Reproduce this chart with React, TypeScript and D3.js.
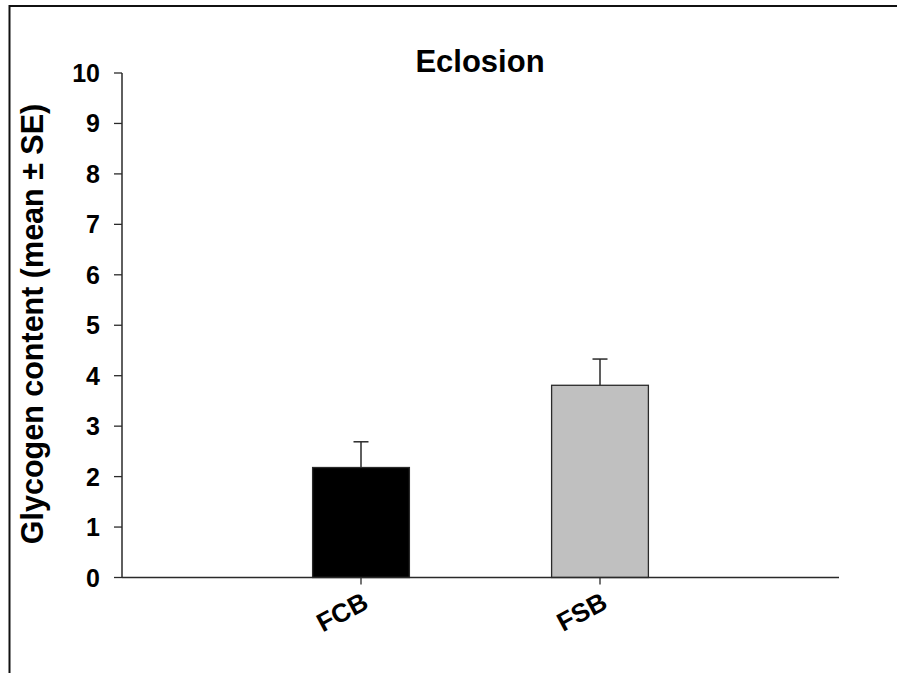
import React from "react";
import * as d3 from "d3";

const categories = ["FCB", "FSB"];
const means = [2.18, 3.81];
const errors = [0.51, 0.52];
const fills = ["#000000", "#c0c0c0"];
const yTicks = [0, 1, 2, 3, 4, 5, 6, 7, 8, 9, 10];
const title = "Eclosion";
const yTitle = "Glycogen content (mean ± SE)";

const W = 897;
const H = 673;
const plot = { left: 122, right: 839, top: 73, bottom: 577.5 };

export default function App() {
  const x = d3
    .scalePoint<string>()
    .domain(categories)
    .range([plot.left, plot.right])
    .padding(1);
  const y = d3.scaleLinear().domain([0, 10]).range([plot.bottom, plot.top]);
  const step = x.step();
  const barW = step * 0.405;
  const font = "Arial, 'Liberation Sans', sans-serif";
  const axisColor = "#2a2a2a";

  return (
    <svg
      width={W}
      height={H}
      style={{ position: "absolute", left: 0, top: 0, background: "#fff" }}
      fontFamily={font}
    >
      {/* frame */}
      <line x1={9.5} x2={W} y1={6} y2={6} stroke="#111" strokeWidth={2} />
      <line x1={9.5} x2={9.5} y1={5} y2={H} stroke="#111" strokeWidth={2} />

      <text x={480} y={72} textAnchor="middle" fontWeight="bold" fontSize={31}>
        {title}
      </text>

      {/* bars */}
      {categories.map((c, i) => {
        const cx = x(c)!;
        const top = y(means[i]);
        const et = y(means[i] + errors[i]);
        return (
          <g key={c}>
            <line x1={cx} x2={cx} y1={top} y2={et} stroke={axisColor} strokeWidth={1.5} />
            <line x1={cx - 7.5} x2={cx + 7.5} y1={et} y2={et} stroke={axisColor} strokeWidth={1.5} />
            <rect
              x={cx - barW / 2}
              y={top}
              width={barW}
              height={plot.bottom - top}
              fill={fills[i]}
              stroke={axisColor}
              strokeWidth={1.3}
            />
          </g>
        );
      })}

      {/* y axis */}
      <line x1={plot.left} x2={plot.left} y1={plot.top} y2={plot.bottom} stroke={axisColor} strokeWidth={1.5} />
      {yTicks.map((t) => (
        <g key={t}>
          <line x1={plot.left - 8} x2={plot.left} y1={y(t)} y2={y(t)} stroke={axisColor} strokeWidth={1.3} />
          <text
            x={100}
            y={y(t)}
            dy="0.36em"
            textAnchor="end"
            fontWeight="bold"
            fontSize={25}
          >
            {t}
          </text>
        </g>
      ))}

      {/* x axis */}
      <line x1={plot.left} x2={plot.right} y1={plot.bottom} y2={plot.bottom} stroke={axisColor} strokeWidth={1.5} />
      {categories.map((c) => (
        <g key={c}>
          <line x1={x(c)!} x2={x(c)!} y1={plot.bottom} y2={plot.bottom + 7} stroke={axisColor} strokeWidth={1.3} />
          <text
            transform={`translate(${x(c)! + 9},${plot.bottom + 30}) rotate(-28)`}
            textAnchor="end"
            fontWeight="bold"
            fontSize={26}
          >
            {c}
          </text>
        </g>
      ))}

      <text
        transform={`translate(43,${(100 + 548) / 2}) rotate(-90)`}
        textAnchor="middle"
        fontWeight="bold"
        fontSize={30.5}
      >
        {yTitle}
      </text>
    </svg>
  );
}
